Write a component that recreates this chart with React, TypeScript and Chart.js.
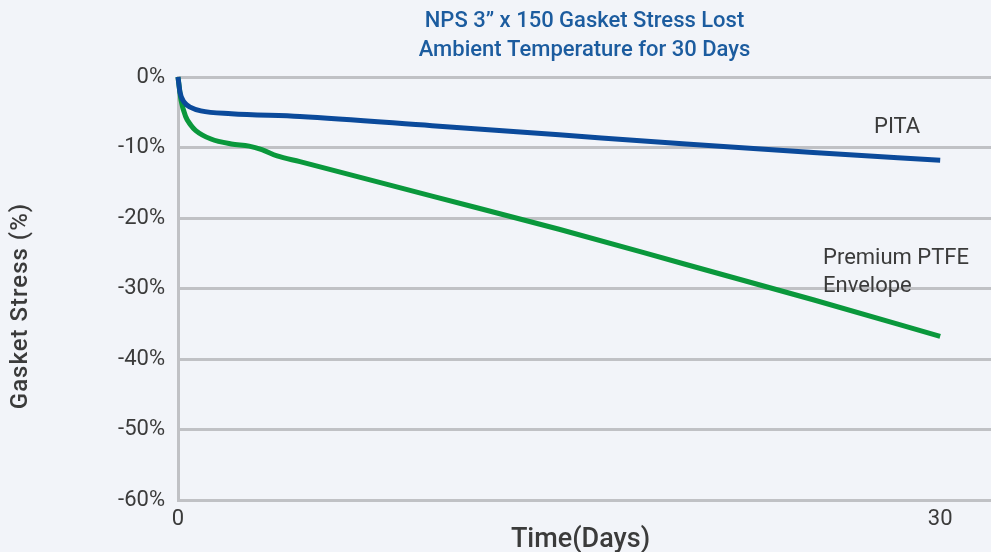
import React, { useEffect, useRef } from "react";
import { Chart, registerables } from "chart.js";

Chart.register(...registerables);

// ---- data ----
const pitaDays = [0, 0.08, 0.25, 0.5, 0.9, 2.1, 4.8, 10, 15, 20, 25, 30];
const pitaStress = [0, -2.2, -3.6, -4.3, -4.8, -5.2, -5.6, -6.9, -8.2, -9.5, -10.7, -11.8];

const ptfeDays = [0, 0.12, 0.3, 0.5, 0.7, 1.3, 2.1, 2.8, 3.3, 3.9, 4.8, 10, 15, 20, 25, 30];
const ptfeStress = [0, -3.3, -5.6, -6.8, -7.6, -8.8, -9.5, -9.8, -10.3, -11.2, -12.0, -16.9, -21.6, -26.6, -31.6, -36.8];

const xTickValues = [0, 30];
const yTickStep = 10;
const yMin = -60;
const yMax = 0;
const xMax = 32;

const titleLines = ["NPS 3\u201D x 150 Gasket Stress Lost", "Ambient Temperature for 30 Days"];
const xTitle = "Time(Days)";
const yTitle = "Gasket Stress (%)";
const pitaLabel = ["PITA"];
const ptfeLabel = ["Premium PTFE", "Envelope"];

const FONT = "Roboto, 'Open Sans', sans-serif";
const TEXT = "#3b3b3b";
const GRID = "#c0c1c5";
const BG = "#f2f4f9";

export default function App() {
  const ref = useRef<HTMLCanvasElement | null>(null);

  useEffect(() => {
    if (!ref.current) return;

    const bgPlugin = {
      id: "bg",
      beforeDraw(chart: any) {
        const { ctx, width, height } = chart;
        ctx.save();
        ctx.fillStyle = BG;
        ctx.fillRect(0, 0, width, height);
        ctx.restore();
      },
    };

    const textPlugin = {
      id: "texts",
      afterDraw(chart: any) {
        const { ctx, chartArea } = chart;
        const cx = (chartArea.left + chartArea.right) / 2;
        ctx.save();
        // title
        ctx.fillStyle = "#1c5c9f";
        ctx.font = `500 22px ${FONT}`;
        ctx.textAlign = "center";
        ctx.textBaseline = "alphabetic";
        ctx.fillText(titleLines[0], cx, 27);
        ctx.fillText(titleLines[1], cx, 56);

        // x title
        ctx.fillStyle = TEXT;
        ctx.font = `500 27px ${FONT}`;
        ctx.fillText(xTitle, cx - 4, 547);

        // y title
        ctx.save();
        ctx.translate(27, 306);
        ctx.rotate(-Math.PI / 2);
        ctx.font = `500 24px ${FONT}`;
        (ctx as any).letterSpacing = "1px";
        ctx.textAlign = "center";
        ctx.textBaseline = "alphabetic";
        ctx.fillText(yTitle, 0, 0);
        ctx.restore();

        // annotations
        ctx.fillStyle = TEXT;
        ctx.font = `400 22px ${FONT}`;
        ctx.textAlign = "left";
        ctx.fillText(pitaLabel[0], 874, 133);
        ctx.fillText(ptfeLabel[0], 823, 264);
        ctx.fillText(ptfeLabel[1], 823, 292);
        ctx.restore();
      },
    };

    const chart = new Chart(ref.current, {
      type: "line",
      data: {
        datasets: [
          {
            label: "PITA",
            data: pitaDays.map((d, i) => ({ x: d, y: pitaStress[i] })),
            borderColor: "#0b4a9b",
            borderWidth: 5,
            pointRadius: 0,
            cubicInterpolationMode: "monotone",
            fill: false,
            clip: false as any,
          },
          {
            label: "Premium PTFE Envelope",
            data: ptfeDays.map((d, i) => ({ x: d, y: ptfeStress[i] })),
            borderColor: "#0a983c",
            borderWidth: 5,
            pointRadius: 0,
            cubicInterpolationMode: "monotone",
            fill: false,
            clip: false as any,
          },
        ],
      },
      options: {
        responsive: false,
        animation: false,
        layout: { padding: { top: 77, left: 0, right: 0, bottom: 0 } },
        plugins: {
          legend: { display: false },
          title: { display: false },
          tooltip: { enabled: false },
        },
        scales: {
          x: {
            type: "linear",
            min: 0,
            max: xMax,
            afterBuildTicks(scale: any) {
              scale.ticks = xTickValues.map((v) => ({ value: v }));
            },
            afterFit(scale: any) {
              scale.height = 52;
            },
            grid: { display: false, drawTicks: false },
            border: { display: false },
            ticks: {
              color: TEXT,
              font: { family: FONT, size: 22 },
              padding: 6,
              maxRotation: 0,
              autoSkip: false,
              callback: (v: any) => String(v),
            },
          },
          y: {
            min: yMin,
            max: yMax,
            afterFit(scale: any) {
              scale.width = 178;
            },
            grid: { color: GRID, lineWidth: 3, drawTicks: false },
            border: { display: true, color: GRID, width: 3 },
            ticks: {
              stepSize: yTickStep,
              color: TEXT,
              font: { family: FONT, size: 22 },
              padding: 13,
              callback: (v: any) => `${v}%`,
            },
          },
        },
      },
      plugins: [bgPlugin, textPlugin],
    } as any);

    return () => chart.destroy();
  }, []);

  return (
    <div style={{ position: "fixed", left: 0, top: 0, width: 991, height: 552, background: BG }}>
      <canvas ref={ref} width={991} height={552} style={{ display: "block" }} />
    </div>
  );
}
